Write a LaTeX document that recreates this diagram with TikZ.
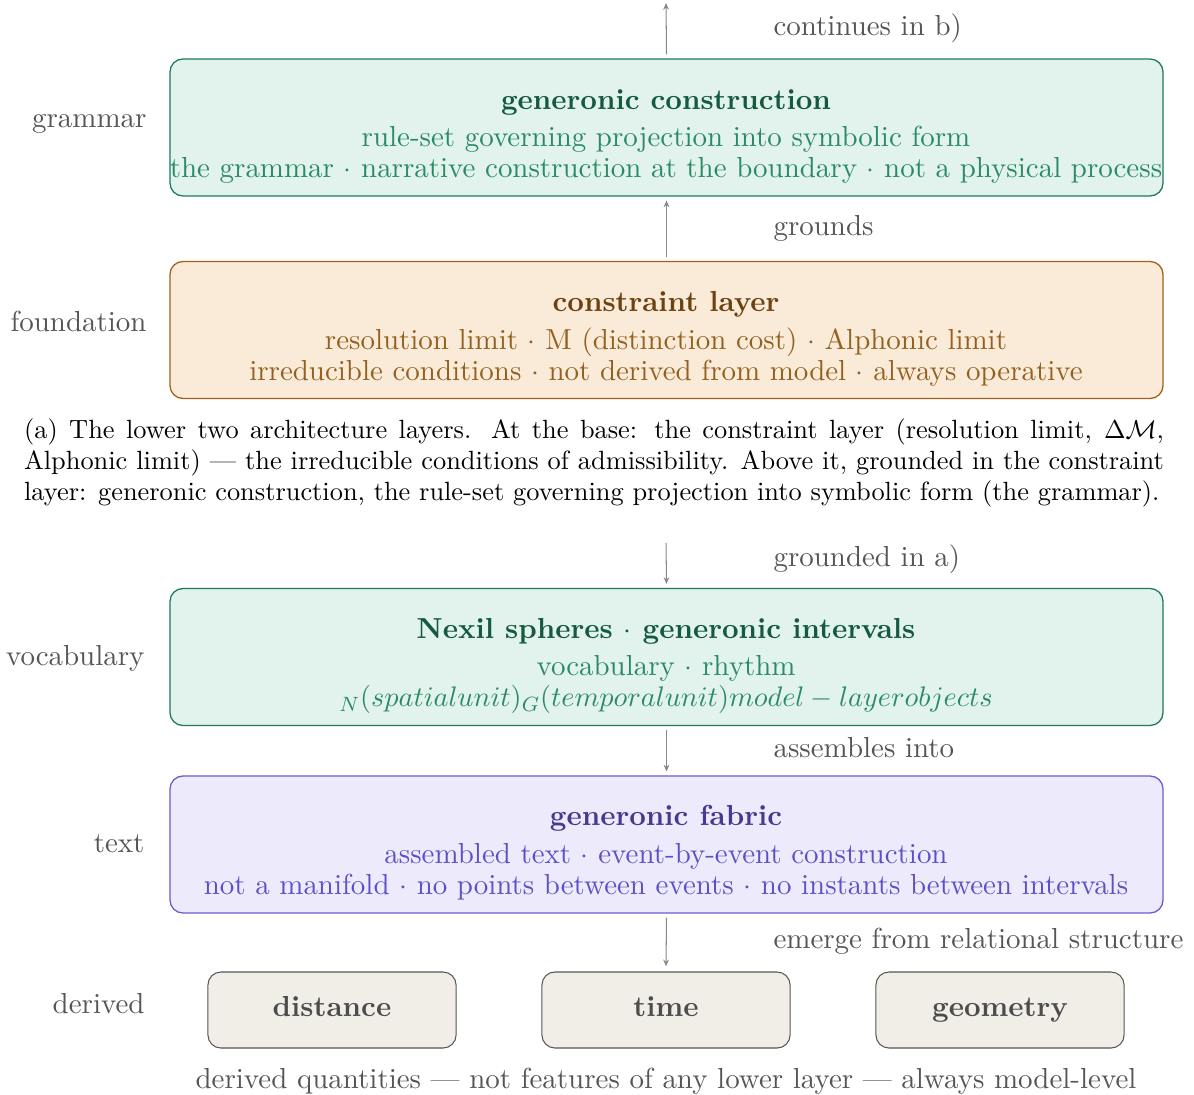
\documentclass[tikz,border=0pt]{standalone}
\usepackage{fontspec}
\setmainfont{lmroman10-regular.otf}[
  BoldFont=lmroman10-bold.otf,
  ItalicFont=lmroman10-italic.otf,
  BoldItalicFont=lmroman10-bolditalic.otf]
\usetikzlibrary{arrows.meta}
\definecolor{grnfill}{HTML}{E1F3EC}
\definecolor{grnline}{HTML}{1E7A5A}
\definecolor{grntitle}{HTML}{145A40}
\definecolor{grntext}{HTML}{2A8A66}
\definecolor{orgfill}{HTML}{FAEBD9}
\definecolor{orgline}{HTML}{A0601A}
\definecolor{orgtitle}{HTML}{6E4210}
\definecolor{orgtext}{HTML}{94601F}
\definecolor{purfill}{HTML}{EDEBFB}
\definecolor{purline}{HTML}{6A5ACD}
\definecolor{purtitle}{HTML}{463A90}
\definecolor{purtext}{HTML}{5C50C8}
\definecolor{grayfill}{HTML}{F1EEE8}
\definecolor{grayline}{HTML}{555555}
\definecolor{labelgray}{HTML}{555555}
\definecolor{arrowgray}{HTML}{888888}
\newcommand{\figfont}{\fontsize{11.2}{12}\selectfont}
\newcommand{\capfont}{\fontsize{10.2}{12}\selectfont}
\begin{document}
\begin{tikzpicture}[x=0.3869pt,y=-0.3869pt,
  font=\figfont,
  layerbox/.style={draw, rounded corners=5pt, line width=0.5pt,
    minimum width=384.2pt, minimum height=53pt, inner sep=0pt},
  greenbox/.style={layerbox, draw=grnline, fill=grnfill},
  orangebox/.style={layerbox, draw=orgline, fill=orgfill},
  purplebox/.style={layerbox, draw=purline, fill=purfill},
  derivedbox/.style={draw=grayline, fill=grayfill, rounded corners=5pt, line width=0.4pt,
    minimum width=96pt, minimum height=29.4pt, inner sep=0pt,
    text height=7.5pt, text depth=2.2pt,
    font=\figfont\bfseries, text=labelgray!90!black},
  boxtext/.style={align=center, inner sep=0pt},
  sidelabel/.style={anchor=base east, text=labelgray, inner sep=0pt},
  edgelabel/.style={anchor=base west, text=labelgray, inner sep=0pt},
  flow/.style={draw=arrowgray, line width=0.4pt, -{Stealth[length=2.6pt,width=2.2pt]}}
]
\useasboundingbox (0,0) rectangle (1194,1095);

% ---------- (a) lower two layers ----------
\coordinate (topend) at (666,3);
\node[greenbox] (gram) at (666.5,127.5) {};
\node[boxtext, text=grntext] (gramtxt) at (666,136.5)
  {{\bfseries\color{grntitle}generonic construction}\\[2.6pt]
   rule-set governing projection into symbolic form\\
   the grammar $\cdot$ narrative construction at the boundary $\cdot$ not a physical process};
\node[sidelabel] (gramlbl) at (147,128) {grammar};
\draw[flow] ([yshift=1.5pt]gram.north) -- (topend);
\node[edgelabel] (contlbl) at (773,35.5) {continues in b)};

\node[orangebox] (cons) at (666.5,330) {};
\node[boxtext, text=orgtext] (constxt) at (666,339)
  {{\bfseries\color{orgtitle}constraint layer}\\[2.6pt]
   resolution limit $\cdot$ M (distinction cost) $\cdot$ Alphonic limit\\
   irreducible conditions $\cdot$ not derived from model $\cdot$ always operative};
\node[sidelabel] (conslbl) at (147,332) {foundation};
\draw[flow] ([yshift=1.5pt]cons.north) -- ([yshift=-1.5pt]gram.south);
\node[edgelabel] (grlbl) at (773,236) {grounds};

\node[text width=441pt, align=justify, inner sep=0pt, anchor=north, font=\capfont] (capa) at (594,418)
  {\parfillskip=0pt (a) The lower two architecture layers. At the base: the constraint layer (resolution limit, $\Delta\mathcal{M}$, Alphonic limit) --- the irreducible conditions of admissibility. Above it, grounded in the constraint layer: generonic construction, the rule-set governing projection into symbolic form (the grammar).};

% ---------- (b) upper layers ----------
\coordinate (startb) at (666,543);
\node[greenbox] (voc) at (666.5,657) {};
\node[boxtext, text=grntext] (voctxt) at (666,666)
  {{\bfseries\color{grntitle}Nexil spheres $\cdot$ generonic intervals}\\[2.6pt]
   vocabulary $\cdot$ rhythm\\
   $_N(spatial unit)_G(temporal unit) model-layer objects$};
\node[sidelabel] (voclbl) at (145,665) {vocabulary};
\draw[flow] (startb) -- ([yshift=1.5pt]voc.north);
\node[edgelabel] (gilbl) at (773,566) {grounded in a)};

\node[purplebox] (fab) at (666.5,844.5) {};
\node[boxtext, text=purtext] (fabtxt) at (666,853)
  {{\bfseries\color{purtitle}generonic fabric}\\[2.6pt]
   assembled text $\cdot$ event-by-event construction\\
   not a manifold $\cdot$ no points between events $\cdot$ no instants between intervals};
\node[sidelabel] (fablbl) at (145,852) {text};
\draw[flow] ([yshift=-1.5pt]voc.south) -- ([yshift=1.5pt]fab.north);
\node[edgelabel] (aslbl) at (773,757) {assembles into};

\node[derivedbox] (dist) at (332,1010) {distance};
\node[derivedbox] (time) at (666,1010) {time};
\node[derivedbox] (geom) at (1000,1010) {geometry};
\node[sidelabel] (derlbl) at (145,1013) {derived};
\draw[flow] ([yshift=-1.5pt]fab.south) -- ([yshift=2pt]time.north);
\node[edgelabel] (emlbl) at (773,948) {emerge from relational structure};

\node[anchor=base, text=labelgray, inner sep=0pt] (dernote) at (666,1088.5)
  {derived quantities --- not features of any lower layer --- always model-level};
\end{tikzpicture}
\end{document}
